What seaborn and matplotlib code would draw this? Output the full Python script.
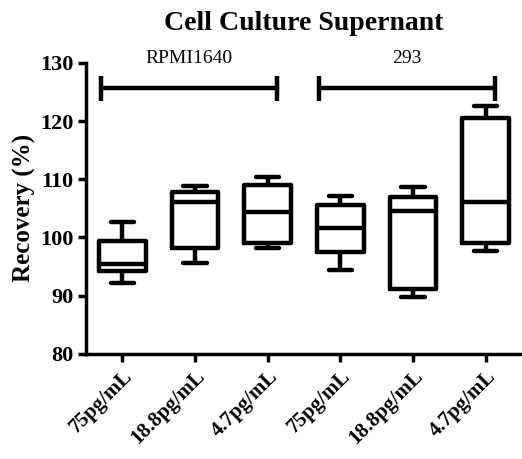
import pandas as pd
import matplotlib.pyplot as plt
import seaborn as sns

# box summaries: min, q1, median, q3, max
labels = ['75pg/mL', '18.8pg/mL', '4.7pg/mL', '75pg/mL ', '18.8pg/mL ', '4.7pg/mL ']
tick_text = ['75pg/mL', '18.8pg/mL', '4.7pg/mL', '75pg/mL', '18.8pg/mL', '4.7pg/mL']
mins = [92.1, 95.7, 98.2, 94.4, 89.8, 97.6]
q1s = [94.2, 98.2, 99.1, 97.5, 91.1, 99.0]
medians = [95.5, 106.1, 104.3, 101.6, 104.6, 106.1]
q3s = [99.4, 107.8, 109.1, 105.5, 107.0, 120.6]
maxs = [102.6, 108.8, 110.4, 107.2, 108.7, 122.6]
groups = ['RPMI1640', '293']
group_members = [[0, 1, 2], [3, 4, 5]]

rows = []
for i, lab in enumerate(labels):
    for v in (mins[i], q1s[i], medians[i], q3s[i], maxs[i]):
        rows.append({'conc': lab, 'recovery': v})
df = pd.DataFrame(rows)

sns.set_theme(style="ticks")
plt.rcParams['font.family'] = ['Liberation Serif', 'DejaVu Serif']
plt.rcParams['text.color'] = 'black'
plt.rcParams['axes.labelcolor'] = 'black'
plt.rcParams['xtick.color'] = 'black'
plt.rcParams['ytick.color'] = 'black'

fig = plt.figure(figsize=(5.22, 4.59), dpi=100)
ax = fig.add_axes([0.165, 0.229, 0.835, 0.634])

sns.boxplot(data=df, x='conc', y='recovery', order=labels, whis=(0, 100),
            fill=False, color='black', linecolor='black', linewidth=3.2,
            width=0.64, ax=ax)

ax.set_ylim(80, 130)
ax.set_xlim(-0.5, 5.5)
ax.set_yticks([80, 90, 100, 110, 120, 130])
ax.set_xticks(range(len(labels)))
ax.set_xticklabels(tick_text, rotation=45, ha='right', rotation_mode='anchor',
                   fontsize=15, fontweight='bold')
for t in ax.get_yticklabels():
    t.set_fontsize(16)
    t.set_fontweight('bold')
ax.tick_params(width=2.5, length=6, color='black', pad=3)
ax.set_xlabel('')
ax.set_ylabel('Recovery (%)', fontsize=18, fontweight='bold', labelpad=3)
ax.set_title('Cell Culture Supernant', fontsize=20, fontweight='bold', pad=24)

for s in ['top', 'right']:
    ax.spines[s].set_visible(False)
for s in ['left', 'bottom']:
    ax.spines[s].set_linewidth(2.5)
    ax.spines[s].set_color('black')

# group brackets above the boxes
for name, members in zip(groups, group_members):
    x0 = members[0] - 0.29
    x1 = members[-1] + 0.13
    ax.plot([x0, x1], [125.6, 125.6], color='black', lw=3.2, clip_on=False)
    ax.vlines([x0, x1], 123.4, 127.7, color='black', lw=3.2, clip_on=False)
    ax.text((x0 + x1) / 2, 130.8, name, ha='center', va='center', fontsize=14,
            clip_on=False)

fig.savefig('out.png', dpi=100)
